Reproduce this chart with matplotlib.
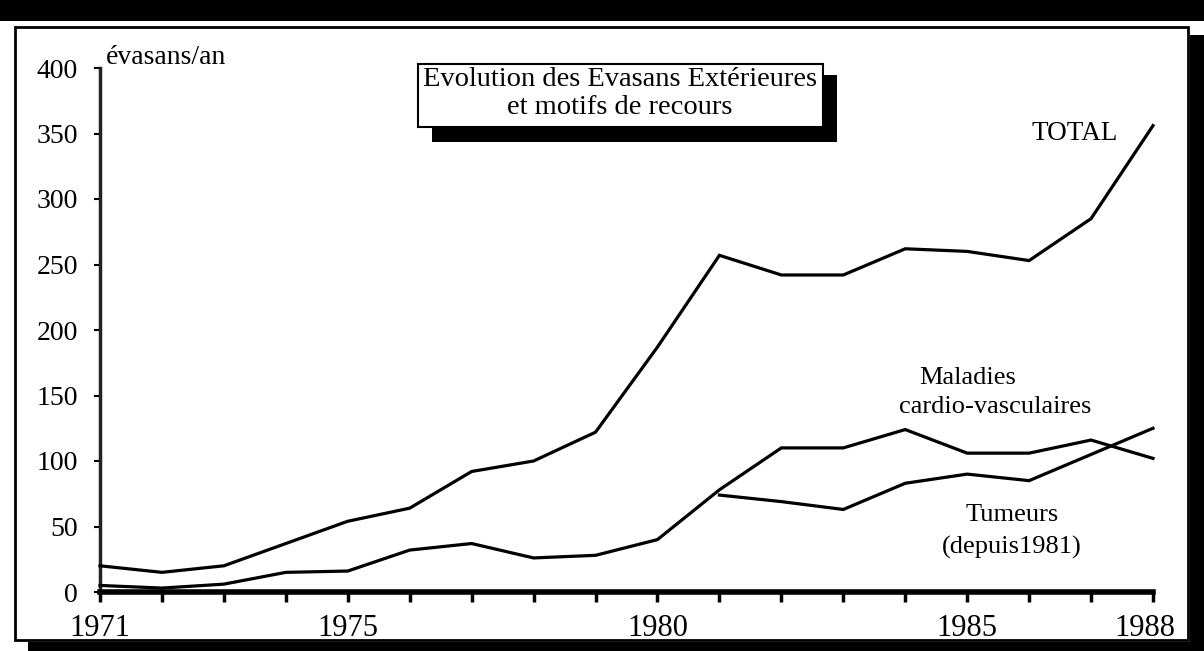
import matplotlib
matplotlib.use("Agg")
import matplotlib.pyplot as plt
import matplotlib.transforms as mtransforms
from matplotlib.patches import Rectangle

# ---- data ----
years = list(range(1971, 1989))
total = [20, 15, 20, 37, 54, 64, 92, 100, 122, 187, 257, 242, 242, 262, 260, 253, 285, 356]
cardio = [5, 3, 6, 15, 16, 32, 37, 26, 28, 40, 78, 110, 110, 124, 106, 106, 116, 102]
tum_years = list(range(1981, 1989))
tumeurs = [74, 69, 63, 83, 90, 85, 105, 125]
xtick_labels = {1971: "1971", 1975: "1975", 1980: "1980", 1985: "1985", 1988: "1988"}
yticks = [0, 50, 100, 150, 200, 250, 300, 350, 400]

plt.rcParams['font.family'] = ['Liberation Serif', 'DejaVu Serif']

W, H = 1204, 651
fig = plt.figure(figsize=(W / 100, H / 100), dpi=100)
fig.patch.set_facecolor("white")

def fx(px):
    return px / W

def fy(py):
    return 1 - py / H

# frame / shadow decorations
fig.patches.append(Rectangle((0, fy(21)), 1, 21 / H, transform=fig.transFigure,
                             facecolor="black", edgecolor="none", zorder=0))
fig.patches.append(Rectangle((fx(15), fy(640)), (1188 - 15) / W, (640 - 27) / H,
                             transform=fig.transFigure, facecolor="none",
                             edgecolor="black", linewidth=2, zorder=1))
fig.patches.append(Rectangle((fx(1190), 0), (W - 1190) / W, fy(35), transform=fig.transFigure,
                             facecolor="black", edgecolor="none", zorder=0))
fig.patches.append(Rectangle((fx(28), 0), (W - 28) / W, fy(642), transform=fig.transFigure,
                             facecolor="black", edgecolor="none", zorder=0))

# axes
ax = fig.add_axes([fx(100), fy(592), (1153 - 100) / W, (592 - 68) / H])
ax.set_facecolor("none")
ax.set_xlim(1971, 1988)
ax.set_ylim(0, 400)

lw = 2.3
ax.plot(years, total, color="black", lw=lw, solid_joinstyle="miter", clip_on=False, zorder=3)
ax.plot(years, cardio, color="black", lw=lw, solid_joinstyle="miter", clip_on=False, zorder=3)
ax.plot(tum_years, tumeurs, color="black", lw=lw, solid_joinstyle="miter", clip_on=False, zorder=3)

for s in ["top", "right"]:
    ax.spines[s].set_visible(False)
ax.spines["left"].set_linewidth(2.5)
ax.spines["left"].set_color("#222222")
ax.spines["bottom"].set_linewidth(4)
ax.spines["bottom"].set_color("black")

ax.set_xticks(years)
ax.set_xticklabels([xtick_labels.get(y, "") for y in years])
ax.set_yticks(yticks)
ax.set_yticklabels([str(v) for v in yticks])
ax.tick_params(axis="x", direction="out", length=7, width=2.5, pad=9, labelsize=22)
ax.tick_params(axis="y", direction="out", length=4, width=1.5, pad=12, labelsize=20)
shift = mtransforms.ScaledTranslation(-8 / 100, 0, fig.dpi_scale_trans)
for lbl in ax.get_xticklabels():
    if lbl.get_text() == "1988":
        lbl.set_transform(lbl.get_transform() + shift)

# unit label
fig.text(fx(106), fy(57), "évasans/an", fontsize=20, ha="left", va="center")

# title box with shadow
fig.patches.append(Rectangle((fx(432), fy(142)), (837 - 432) / W, (142 - 75) / H,
                             transform=fig.transFigure, facecolor="black",
                             edgecolor="none", zorder=4))
fig.patches.append(Rectangle((fx(418), fy(127)), (823 - 418) / W, (127 - 64) / H,
                             transform=fig.transFigure, facecolor="white",
                             edgecolor="black", linewidth=1.5, zorder=5))
fig.text(fx(620), fy(80), "Evolution des Evasans Extérieures", fontsize=20.5,
         ha="center", va="center", zorder=6)
fig.text(fx(620), fy(108), "et motifs de recours", fontsize=20.5,
         ha="center", va="center", zorder=6)

# series labels
fig.text(fx(1075), fy(133), "TOTAL", fontsize=19.5, ha="center", va="center")
fig.text(fx(968), fy(378), "Maladies", fontsize=19, ha="center", va="center")
fig.text(fx(995), fy(407), "cardio-vasculaires", fontsize=19, ha="center", va="center")
fig.text(fx(1012), fy(515), "Tumeurs", fontsize=19, ha="center", va="center")
fig.text(fx(1012), fy(547), "(depuis1981)", fontsize=19, ha="center", va="center")

fig.savefig("out.png", dpi=100, facecolor="white")
